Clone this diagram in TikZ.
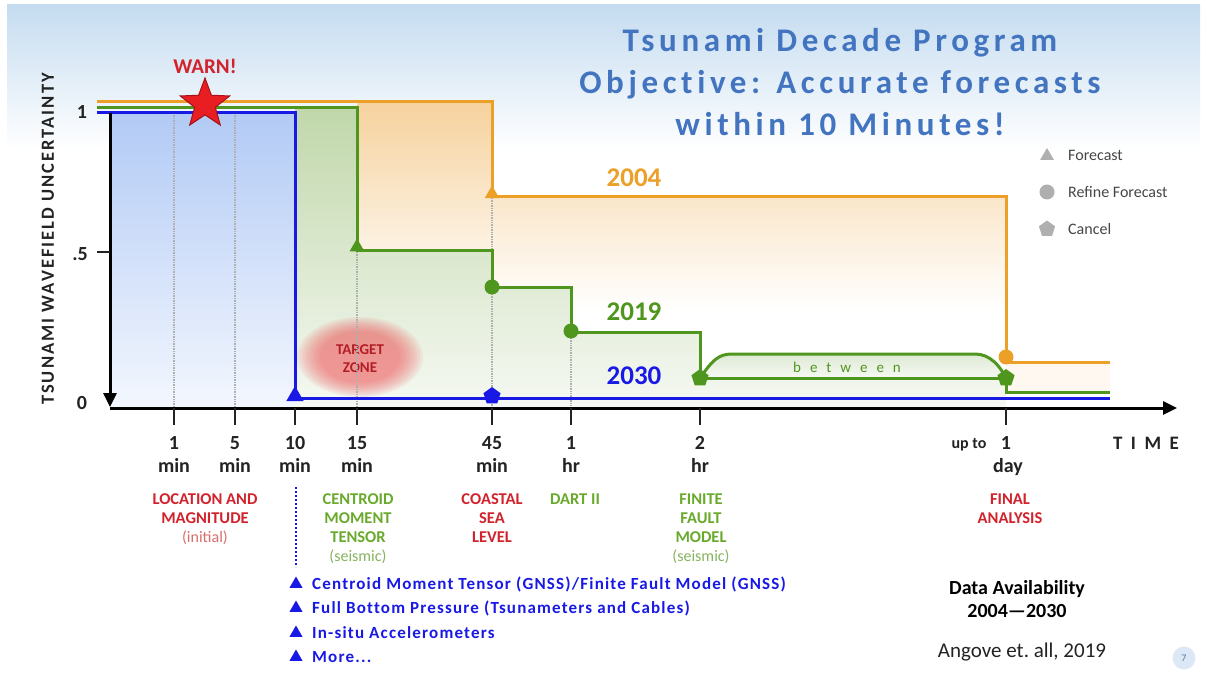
\documentclass[tikz,border=0pt]{standalone}
\usepackage{fontspec}
\setmainfont{Carlito}
\newfontfamily\titlefont[LetterSpace=14,Ligatures={NoCommon}]{Carlito}
\newfontfamily\axfont[LetterSpace=11,Ligatures={NoCommon}]{Carlito}
\newfontfamily\timefont[LetterSpace=45]{Carlito}
\newfontfamily\listfont[LetterSpace=7,Ligatures={NoCommon}]{Carlito}
\newfontfamily\betweenfont[LetterSpace=60]{Carlito}
\usetikzlibrary{shapes.geometric,arrows.meta}
\definecolor{cOr}{RGB}{236,160,40}
\definecolor{cOrF}{RGB}{246,210,158}
\definecolor{cGr}{RGB}{78,150,30}
\definecolor{cGrF}{RGB}{192,215,170}
\definecolor{cGrB}{RGB}{246,249,243}
\definecolor{cBl}{RGB}{25,25,230}
\definecolor{cBlF}{RGB}{178,202,245}
\definecolor{cBlB}{RGB}{243,247,254}
\definecolor{cRed}{RGB}{210,35,45}
\definecolor{cRedL}{RGB}{215,110,110}
\definecolor{cLGr}{RGB}{105,170,45}
\definecolor{cLGrL}{RGB}{135,180,95}
\definecolor{cTitle}{RGB}{66,116,192}
\definecolor{cGray}{RGB}{175,175,175}
\definecolor{cTxt}{RGB}{35,35,35}
\definecolor{cLeg}{RGB}{70,70,70}
\definecolor{cBand}{RGB}{197,220,240}
\definecolor{cTZ}{RGB}{238,80,85}
\definecolor{cStar}{RGB}{232,30,35}
\definecolor{cStarD}{RGB}{165,20,25}
\begin{document}
\begin{tikzpicture}[x=1pt,y=-1pt,
  lbl/.style={anchor=base, inner sep=0pt},
  tickl/.style={lbl, font=\bfseries\fontsize{20}{24}\selectfont, text=cTxt},
  bot/.style={lbl, font=\bfseries\fontsize{16.5}{20}\selectfont},
  botsub/.style={lbl, font=\fontsize{16}{20}\selectfont},
  yearl/.style={inner sep=0pt, font=\bfseries\fontsize{27}{30}\selectfont},
  tri/.style={regular polygon, regular polygon sides=3, inner sep=0pt, minimum size=17pt},
  dotm/.style={circle, inner sep=0pt, minimum size=15pt},
  pent/.style={regular polygon, regular polygon sides=5, inner sep=0pt, minimum size=18pt},
  gridl/.style={densely dotted, line width=1.4pt, color=cGray},
  serie/.style={line width=3pt},
  axisl/.style={line width=3pt, color=black},
  tickm/.style={line width=2.6pt, color=cTxt},
  listl/.style={anchor=base west, inner sep=0pt, text=cBl, font=\listfont\bfseries\fontsize{17}{20}\selectfont},
  legl/.style={anchor=west, inner sep=0pt, text=cLeg, font=\fontsize{16}{20}\selectfont},
  titlel/.style={lbl, text=cTitle, font=\titlefont\bfseries\fontsize{33}{40}\selectfont}
]
\useasboundingbox (0,0) rectangle (1206,676);
\fill[white] (0,0) rectangle (1206,676);
\shade[top color=cBand, bottom color=white] (7,5) rectangle (1200,150);

% ---- fills
\begin{scope}
\clip (357,102) -- (492,102) -- (492,197) -- (1006,197) -- (1006,362) -- (1110,362) -- (1110,408) -- (357,408) -- cycle;
\shade[top color=cOrF, bottom color=white] (357,102) rectangle (1110,310);
\end{scope}
\fill[cOr!7] (1006,362) rectangle (1110,392);
\begin{scope}
\clip (295,108) -- (357,108) -- (357,250) -- (492,250) -- (492,287) -- (571,287) -- (571,332) -- (700,332) -- (700,378) -- (1006,378) -- (1006,408) -- (295,408) -- cycle;
\shade[top color=cGrF, bottom color=cGrB] (295,108) rectangle (1006,408);
\end{scope}
\shade[top color={rgb,255:red,222;green,233;blue,212}, bottom color=cGrB] (700,378) .. controls (712,361) and (718,354) .. (732,354) -- (975,354) .. controls (990,354) and (1000,366) .. (1006,378) -- cycle;
\shade[top color=cBlF, bottom color=cBlB] (110,113) rectangle (295,408);

% ---- target zone
\coordinate (tz) at (360,357);
\foreach \k in {0,...,8}{
  \pgfmathsetmacro\f{1-0.045*\k}
  \fill[cTZ, opacity=0.085] (tz) ellipse [x radius=\f*63pt, y radius=\f*40pt];
}
\node[inner sep=0pt, text=cRed!85!black, font=\bfseries\fontsize{15}{18}\selectfont] (tz1) at (360,350) {TARGET};
\node[inner sep=0pt, text=cRed!85!black, font=\bfseries\fontsize{15}{18}\selectfont] (tz2) at (360,368) {ZONE};

% ---- grid lines
\draw[gridl] (174,113) -- (174,408);
\draw[gridl] (235,113) -- (235,408);
\draw[gridl] (357,252) -- (357,408);
\draw[gridl] (492,198) -- (492,408);
\draw[gridl] (571,333) -- (571,408);

% ---- series
\draw[serie, cBl] (97,113) -- (295,113) -- (295,398) -- (1110,398);
\draw[serie, cGr] (97,108) -- (357,108) -- (357,250) -- (492,250) -- (492,287) -- (571,287) -- (571,332) -- (700,332) -- (700,378) -- (1006,378) -- (1006,392) -- (1110,392);
\draw[serie, cGr] (700,378) .. controls (712,361) and (718,354) .. (732,354) -- (975,354) .. controls (990,354) and (1000,366) .. (1006,378);
\draw[serie, cOr] (97,102) -- (492,102) -- (492,197) -- (1006,197) -- (1006,362) -- (1110,362);

% ---- markers
\node[tri, fill=cOr] (m1) at (492,194) {};
\node[tri, fill=cGr] (m2) at (357,247) {};
\node[tri, fill=cBl, minimum size=20pt] (m3) at (295,396) {};
\node[dotm, fill=cGr] (m4) at (492,287) {};
\node[dotm, fill=cGr] (m5) at (571,331) {};
\node[dotm, fill=cOr] (m6) at (1006,357) {};
\node[pent, fill=cGr] (m7) at (700,378) {};
\node[pent, fill=cGr] (m8) at (1006,378) {};
\node[pent, fill=cBl] (m9) at (492,396) {};

% ---- star
\node[star, star points=5, star point ratio=2.4, minimum size=52pt, inner sep=0pt, fill=cStar, draw=cStarD, line width=1pt] (star) at (205,104) {};
\node[inner sep=0pt, text=cRed, font=\bfseries\fontsize{21}{24}\selectfont] (warn) at (205,66) {WARN!};

% ---- axes
\coordinate (ytop) at (110,113);
\coordinate (ybot) at (110,407);
\coordinate (xo) at (110,408);
\coordinate (xend) at (1177,408);
\draw[axisl, -{Triangle[length=14pt,width=13pt]}] (ytop) -- (ybot);
\draw[axisl, -{Triangle[length=14pt,width=13pt]}] (xo) -- (xend);
\draw[tickm] (97,252) -- (110,252);
\foreach \x in {174,235,295,357,492,571,700,1006}{
  \draw[tickm] (\x,408) -- (\x,425);
}
\node[inner sep=0pt, text=cTxt, font=\bfseries\fontsize{20}{24}\selectfont] (y1) at (82,112) {1};
\node[inner sep=0pt, text=cTxt, font=\bfseries\fontsize{20}{24}\selectfont] (y05) at (80,254) {.5};
\node[inner sep=0pt, text=cTxt, font=\bfseries\fontsize{20}{24}\selectfont] (y0) at (82,403) {0};
\node[rotate=90, inner sep=0pt, text=cTxt, font=\axfont\bfseries\fontsize{18.5}{20}\selectfont] (ytitle) at (48,239) {TSUNAMI WAVEFIELD UNCERTAINTY};

% ---- tick labels
\foreach \x/\a/\b in {174/1/min, 235/5/min, 295/10/min, 357/15/min, 492/45/min, 571/1/hr, 700/2/hr}{
  \node[tickl] (ta\x) at (\x,449) {\a};
  \node[tickl] (tb\x) at (\x,472) {\b};
}
\node[tickl] (ta1006) at (1006,449) {1};
\node[tickl] (tb1006) at (1008,472) {day};
\node[lbl, text=cTxt, font=\bfseries\fontsize{16}{20}\selectfont] (upto) at (969,448) {up to};
\node[lbl, text=cTxt, font=\timefont\bfseries\fontsize{19}{22}\selectfont] (time) at (1146,449) {TIME};

% ---- year labels
\node[yearl, text=cOr] (y2004) at (634,178) {2004};
\node[yearl, text=cGr] (y2019) at (634,312) {2019};
\node[yearl, text=cBl] (y2030) at (634,376) {2030};
\node[inner sep=0pt, text=cGr, font=\betweenfont\fontsize{15}{18}\selectfont] (betw) at (847,367) {between};

% ---- title
\node[titlel] (t1) at (840,52) {Tsunami Decade Program};
\node[titlel] (t2) at (840,94) {Objective: Accurate forecasts};
\node[titlel] (t3) at (840,136) {within 10 Minutes!};

% ---- legend
\node[tri, fill=cGray, minimum size=16pt] (lg1) at (1047,156) {};
\node[legl] (lt1) at (1068,155) {Forecast};
\node[dotm, fill=cGray] (lg2) at (1047,192) {};
\node[legl] (lt2) at (1068,192) {Refine Forecast};
\node[pent, fill=cGray, minimum size=17pt] (lg3) at (1047,229) {};
\node[legl] (lt3) at (1068,229) {Cancel};

% ---- bottom labels
\node[bot, text=cRed] (l1a) at (205,504) {LOCATION AND};
\node[bot, text=cRed] (l1b) at (205,523) {MAGNITUDE};
\node[botsub, text=cRedL] (l1c) at (205,542) {(initial)};
\node[bot, text=cLGr] (l2a) at (358,504) {CENTROID};
\node[bot, text=cLGr] (l2b) at (358,523) {MOMENT};
\node[bot, text=cLGr] (l2c) at (358,542) {TENSOR};
\node[botsub, text=cLGrL] (l2d) at (358,561) {(seismic)};
\node[bot, text=cRed] (l3a) at (492,504) {COASTAL};
\node[bot, text=cRed] (l3b) at (492,523) {SEA};
\node[bot, text=cRed] (l3c) at (492,542) {LEVEL};
\node[bot, text=cLGr] (l4a) at (575,504) {DART II};
\node[bot, text=cLGr] (l5a) at (701,504) {FINITE};
\node[bot, text=cLGr] (l5b) at (701,523) {FAULT};
\node[bot, text=cLGr] (l5c) at (701,542) {MODEL};
\node[botsub, text=cLGrL] (l5d) at (701,561) {(seismic)};
\node[bot, text=cRed] (l6a) at (1010,504) {FINAL};
\node[bot, text=cRed] (l6b) at (1010,523) {ANALYSIS};

% ---- blue list
\coordinate (bd1) at (296,487);
\coordinate (bd2) at (296,567);
\draw[cBl, dotted, line width=2pt] (bd1) -- (bd2);
\foreach \i/\yy/\t in {1/583/{Centroid Moment Tensor (GNSS)/Finite Fault Model (GNSS)}, 2/607/{Full Bottom Pressure (Tsunameters and Cables)}, 3/632/{In-situ Accelerometers}, 4/656/{More...}}{
  \node[tri, fill=cBl, minimum size=15pt] (bt\i) at (296,\yy+1) {};
  \node[listl] (bl\i) at (312,\yy+6) {\t};
}

% ---- data availability
\node[lbl, text=black, font=\bfseries\fontsize{20}{24}\selectfont] (da1) at (1017,594) {Data Availability};
\node[lbl, text=black, font=\bfseries\fontsize{20}{24}\selectfont] (da2) at (1017,617) {2004—2030};
\node[lbl, text=cTxt, font=\fontsize{21}{24}\selectfont] (ang) at (1022,657) {Angove et.\ all, 2019};

% ---- slide number
\node[circle, fill={rgb,255:red,220;green,232;blue,245}, minimum size=23pt, inner sep=0pt, text={rgb,255:red,90;green,120;blue,170}, font=\fontsize{10}{12}\selectfont] (pg) at (1184,658) {7};
\end{tikzpicture}
\end{document}
